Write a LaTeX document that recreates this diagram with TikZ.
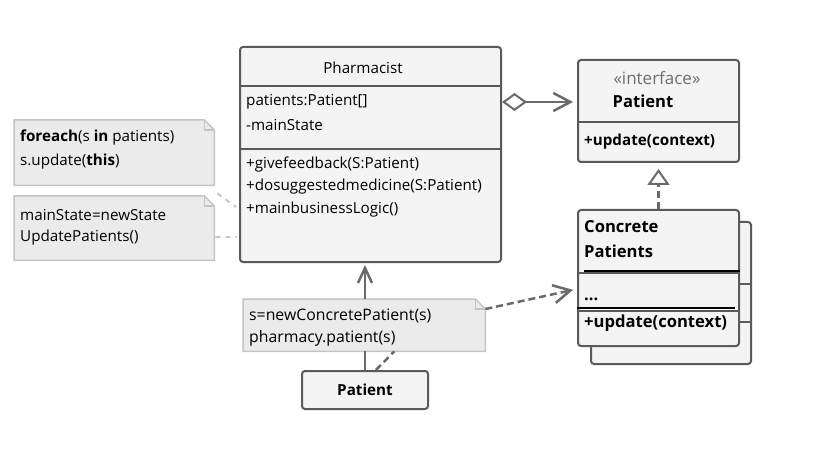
\documentclass[tikz,border=0pt]{standalone}
\usepackage{fontspec}
\setmainfont{Open Sans}
\usetikzlibrary{arrows.meta}
\definecolor{boxfill}{HTML}{F4F4F4}
\definecolor{boxline}{HTML}{5A5A5A}
\definecolor{notefill}{HTML}{EBEBEB}
\definecolor{noteline}{HTML}{C4C4C4}
\definecolor{conncol}{HTML}{6A6A6A}
\definecolor{lightconn}{HTML}{C8C8C8}
\definecolor{stereo}{HTML}{6E6E6E}
\newcommand\fsz{\fontsize{15.2}{18}\selectfont}
\newcommand\fbig{\fontsize{16.6}{19}\selectfont}
\newcommand\dogear[1]{%
  \filldraw[notestyle] (#1.north west) -- ([xshift=-10pt]#1.north east) -- ([yshift=-10pt]#1.north east) -- (#1.south east) -- (#1.south west) -- cycle;
  \draw[notestyle, fill=none] ([xshift=-10pt]#1.north east) |- ([yshift=-10pt]#1.north east);}
\begin{document}
\begin{tikzpicture}[x=1pt,y=-1pt, font=\fsz,
  umlbox/.style={draw=boxline, fill=boxfill, line width=2pt, rounded corners=3pt, inner sep=0pt, anchor=north west},
  notebox/.style={inner sep=0pt, anchor=north west},
  notestyle/.style={draw=noteline, fill=notefill, line width=1.5pt},
  txt/.style={inner sep=0pt, anchor=west},
  btxt/.style={txt, font=\fsz\bfseries},
  bigtxt/.style={txt, font=\fbig\bfseries},
  divider/.style={draw=boxline, line width=2pt},
  blackline/.style={draw=black, line width=2.5pt},
  conn/.style={draw=conncol, line width=2.5pt},
  dconn/.style={conn, dash pattern=on 7pt off 4pt},
  lconn/.style={draw=lightconn, line width=2pt, dash pattern=on 5pt off 5pt}]
\useasboundingbox (0,0) rectangle (813,454);

% Pharmacist
\node[umlbox, minimum width=261pt, minimum height=215pt] (pharm) at (239,46) {};
\draw[divider] (pharm.west |- 0,86) -- (pharm.east |- 0,86);
\draw[divider] (pharm.west |- 0,149) -- (pharm.east |- 0,149);
\node (ptitle) at (363,68) {Pharmacist};
\node[txt] (pa1) at (246,102) {patients:Patient[]};
\node[txt] (pa2) at (246,125) {-mainState};
\node[txt] (pm1) at (246,165) {+givefeedback(S:Patient)};
\node[txt] (pm2) at (246,187) {+dosuggestedmedicine(S:Patient)};
\node[txt] (pm3) at (246,210) {+mainbusinessLogic()};

% Interface Patient
\node[umlbox, minimum width=161pt, minimum height=102pt] (iface) at (577,59) {};
\draw[divider] (iface.west |- 0,122) -- (iface.east |- 0,122);
\node[text=stereo, font=\fontsize{17}{20}\selectfont] (istereo) at (657,78) {«interface»};
\node[font=\fbig\bfseries] (iname) at (643,101) {Patient};
\node[btxt] (iop) at (584,142) {+update(context)};

% Concrete patients (stacked)
\node[umlbox, minimum width=160pt, minimum height=142pt] (cback) at (590,221) {};
\draw[divider] (cback.east |- 0,284) -- ++(-14,0);
\draw[divider] (cback.east |- 0,322) -- ++(-14,0);
\node[umlbox, minimum width=161pt, minimum height=136pt] (conc) at (577,209) {};
\draw[divider] (conc.west |- 0,273) -- (conc.east |- 0,273);
\draw[divider] (conc.west |- 0,311) -- (conc.east |- 0,311);
\draw[blackline] (584,271) -- (conc.east |- 0,271);
\draw[blackline] (conc.west |- 0,308) -- (735,308);
\node[bigtxt] (cn1) at (584,227) {Concrete};
\node[bigtxt] (cn2) at (584,251) {Patients};
\node[bigtxt] (cdots) at (584,299) {...};
\node[bigtxt] (cop) at (584,323) {+update(context)};

% Notes
\node[notebox, minimum width=200pt, minimum height=65pt] (note1) at (14,120) {};
\dogear{note1}
\node[txt] (n1a) at (20,138) {\textbf{foreach}(s \textbf{in} patients)};
\node[txt] (n1b) at (20,162) {s.update(\textbf{this})};

\node[notebox, minimum width=200pt, minimum height=64pt] (note2) at (14,196) {};
\dogear{note2}
\node[txt] (n2a) at (20,215) {mainState=newState};
\node[txt] (n2b) at (20,238) {UpdatePatients()};

\node[notebox, minimum width=242pt, minimum height=52pt] (note3) at (243,299) {};
\dogear{note3}
\node[txt, font=\fontsize{15.8}{18}\selectfont] (n3a) at (249,316) {s=newConcretePatient(s)};
\node[txt, font=\fontsize{15.8}{18}\selectfont] (n3b) at (249,338) {pharmacy.patient(s)};

% Client Patient
\node[umlbox, minimum width=126pt, minimum height=38pt, font=\fsz\bfseries] (pat) at (301,370) {Patient};

% Connectors
\draw[conn, {Diamond[open,length=25pt,width=18pt,line width=2pt]}-{Straight Barb[length=17pt,width=18pt]}, shorten >=4pt]
  (pharm.east |- 0,102) -- (iface.west |- 0,102);
\draw[dconn, -{Triangle[open,length=16pt,width=22pt,line width=2pt]}, shorten >=6pt] (conc.north) -- (iface.south);
\draw[conn, -{Straight Barb[length=15pt,width=14pt]}, shorten >=2pt] (note3.north -| pat.north) -- (pharm.south -| pat.north);
\draw[conn] (pat.north) -- (note3.south -| pat.north);
\draw[dconn] ([xshift=11pt]pat.north) -- ([xshift=30pt]note3.south);
\draw[dconn, -{Straight Barb[length=17pt,width=18pt]}, shorten >=4pt] ([yshift=-10pt]note3.north east) -- ([yshift=-11pt]conc.west);
\coordinate (n1end) at (236,207);
\coordinate (n2end) at (237,237);
\draw[lconn] ([xshift=3pt,yshift=-8pt]note1.south east) -- (n1end);
\draw[lconn] ([xshift=1pt,yshift=-9pt]note2.east) -- (n2end);
\end{tikzpicture}
\end{document}
